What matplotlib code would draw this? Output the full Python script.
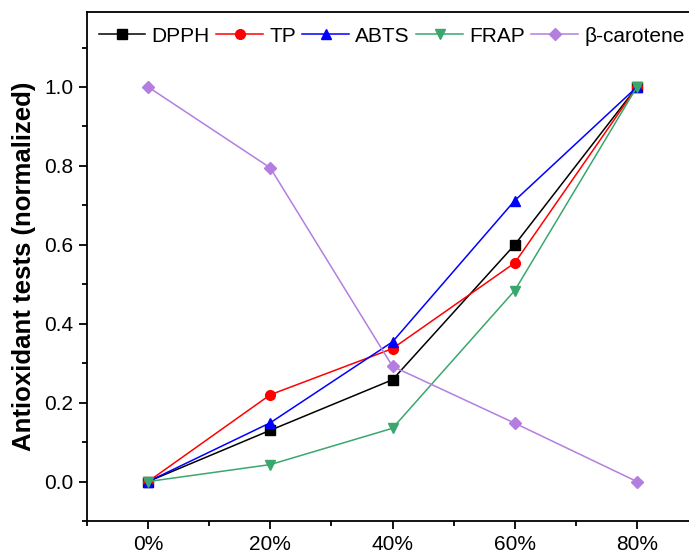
import matplotlib
matplotlib.use('Agg')
import matplotlib.pyplot as plt
from matplotlib.ticker import MultipleLocator, FuncFormatter

plt.rcParams['font.family'] = ['Liberation Sans', 'DejaVu Sans']

# data
conc = [0, 20, 40, 60, 80]
dpph = [0.0, 0.13, 0.258, 0.60, 1.0]
tp = [0.0, 0.22, 0.337, 0.554, 1.0]
abts = [0.0, 0.149, 0.354, 0.712, 1.0]
frap = [0.0, 0.043, 0.135, 0.484, 1.0]
bcar = [1.0, 0.795, 0.292, 0.148, 0.0]

series = [
    ('DPPH', dpph, 'black', 's'),
    ('TP', tp, '#ff0000', 'o'),
    ('ABTS', abts, '#0000ff', '^'),
    ('FRAP', frap, '#3aa76d', 'v'),
    ('\u03b2-carotene', bcar, '#b47ee0', 'D'),
]

fig = plt.figure(figsize=(6.89, 5.58), dpi=100)
ax = fig.add_axes([87/689, 37/558, 611/689, 509/558])

for name, vals, col, mk in series:
    ax.plot(conc, vals, color=col, marker=mk, markersize=7 if mk != 'D' else 6.5,
            linewidth=1.1, label=name)

ax.set_xlim(-10, 90)
ax.set_ylim(-0.1, 1.19)
ax.xaxis.set_major_locator(MultipleLocator(20))
ax.xaxis.set_minor_locator(MultipleLocator(10))
ax.yaxis.set_major_locator(MultipleLocator(0.2))
ax.yaxis.set_minor_locator(MultipleLocator(0.1))
ax.xaxis.set_major_formatter(FuncFormatter(lambda v, p: '%d%%' % v))
ax.yaxis.set_major_formatter(FuncFormatter(lambda v, p: '%.1f' % v))
ax.tick_params(which='major', direction='out', length=6, width=1.3, labelsize=15, pad=4)
ax.tick_params(which='minor', direction='out', length=3.5, width=1.3)
for s in ax.spines.values():
    s.set_linewidth(1.3)

ax.set_ylabel('Antioxidant tests (normalized)', fontsize=18.5, fontweight='bold', labelpad=6)

ax.legend(loc='upper left', bbox_to_anchor=(-0.005, 1.0), ncol=5, frameon=False,
          fontsize=15, handlelength=2.25, handletextpad=0.3, columnspacing=0.3,
          borderaxespad=0.3)

fig.savefig('out.png', dpi=100)
